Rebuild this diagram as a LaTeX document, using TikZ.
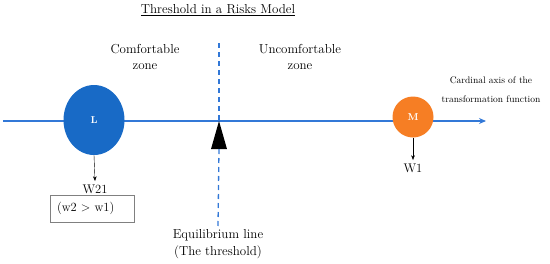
\documentclass[tikz,border=0pt]{standalone}
\usepackage{tikz}
\usetikzlibrary{calc,arrows.meta,positioning,shapes.geometric}
\definecolor{axisblue}{RGB}{50,120,215}
\definecolor{lblue}{RGB}{24,106,198}
\definecolor{morange}{RGB}{246,126,36}

\begin{document}
\begin{tikzpicture}[x=1pt, y=-1pt, >=Stealth,
    font=\fontsize{13}{16.5}\selectfont,
    weight/.style={font=\fontsize{12.5}{14}\selectfont},
    point/.style={inner sep=0pt, text=white, font=\bfseries\fontsize{10}{11}\selectfont},
    eqline/.style={axisblue, line width=1.3pt, dash pattern=on 5pt off 4pt}]
    \def\ay{121}    % axis height
    \def\tx{219}    % threshold position
    \useasboundingbox (0,0) rectangle (550,263);

    % Title
    \node (title) at (218,10) {\underline{Threshold in a Risks Model}};

    % Zone labels
    \node[align=center] (comf) at (145,57) {Comfortable\\zone};
    \node[align=center] (uncomf) at (300,57) {Uncomfortable\\zone};

    % Cardinal axis
    \coordinate (axs) at (3,\ay);
    \coordinate (axe) at (486,\ay);
    \draw[axisblue, line width=1.3pt, -{Stealth[length=7pt,width=6pt]}] (axs) -- (axe);
    \node[align=center, font=\fontsize{9.5}{19}\selectfont] (axlab) at (491,90) {Cardinal axis of the\\transformation function};

    % Equilibrium line with the pivot
    \coordinate (ttop) at (\tx,43);
    \coordinate (apex) at (\tx,\ay);
    \coordinate (tbase) at (\tx,149);
    \fill[black] (apex) -- ($(tbase)+(-8,0)$) -- ($(tbase)+(8,0)$) -- cycle;
    \node[align=center] (eq) at (218,244) {Equilibrium line\\(The threshold)};
    \draw[eqline] (ttop) -- (apex);
    \draw[eqline] (tbase) -- (eq.north);

    % Points on the axis
    \node[point, ellipse, fill=lblue, minimum width=61pt, minimum height=70pt] (L) at (94,120) {L};
    \node[point, circle, fill=morange, minimum size=41pt] (M) at (413,117) {M};

    % Weights
    \node[weight] (w21) at (95,189) {W21};
    \node[weight] (w1) at (413,168) {W1};
    \draw[->] (L.south) -- (w21.north);
    \draw[->] (M.south) -- (w1.north);
    \node[draw=gray, minimum width=84pt, minimum height=27pt, text width=70pt, inner xsep=7pt, align=left, weight] (cond) at (92,208.5) {(w2 > w1)};
\end{tikzpicture}
\end{document}
